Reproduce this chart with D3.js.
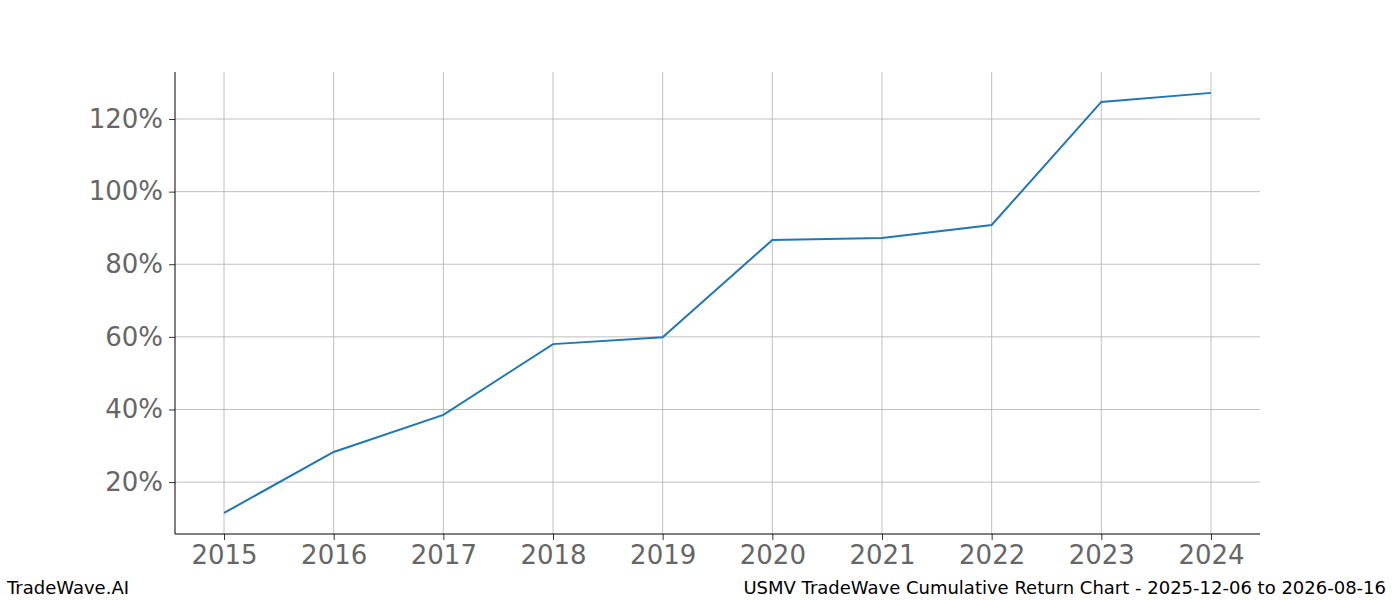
<!DOCTYPE html>
<html><head><meta charset="utf-8">
<script src="https://cdn.jsdelivr.net/npm/d3@7"></script>
<style>body{margin:0;background:#fff}svg{font-family:"DejaVu Sans",sans-serif}</style>
</head><body><svg width="1400" height="600"></svg>
<script>
var years = [2015,2016,2017,2018,2019,2020,2021,2022,2023,2024]
var returns = [11.5,28.3,38.5,58.0,59.9,86.7,87.2,90.8,124.7,127.2]
var yTicks = [20,40,60,80,100,120]

var svg = d3.select("svg")
var x = d3.scaleLinear().domain([2014.553,2024.447]).range([175,1260])
var y = d3.scaleLinear().domain([5.7,132.95]).range([534,72])

// grid
svg.append("g").selectAll("line").data(years).enter().append("line")
  .attr("x1",d=>x(d)).attr("x2",d=>x(d)).attr("y1",72).attr("y2",534)
  .attr("stroke","#b0b0b0").attr("stroke-width",0.8)
svg.append("g").selectAll("line").data(yTicks).enter().append("line")
  .attr("x1",175).attr("x2",1260).attr("y1",d=>y(d)).attr("y2",d=>y(d))
  .attr("stroke","#b0b0b0").attr("stroke-width",0.8)

var xa = svg.append("g").attr("transform","translate(0,534)")
  .call(d3.axisBottom(x).tickValues(years).tickFormat(d3.format("d")).tickSize(6).tickPadding(6))
var ya = svg.append("g").attr("transform","translate(175,0)")
  .call(d3.axisLeft(y).tickValues(yTicks).tickFormat(d=>d+"%").tickSize(6).tickPadding(6))
;[xa,ya].forEach(function(a){
  a.select(".domain").remove()
  a.selectAll("line").attr("stroke","#333")
  a.selectAll("text").attr("font-size",26).attr("fill","#666").attr("font-family","DejaVu Sans")
})
svg.append("line").attr("x1",175).attr("x2",175).attr("y1",72).attr("y2",534).attr("stroke","#000")
svg.append("line").attr("x1",175).attr("x2",1260).attr("y1",534).attr("y2",534).attr("stroke","#000")

svg.append("path").datum(years.map((d,i)=>[d,returns[i]]))
  .attr("d",d3.line().x(d=>x(d[0])).y(d=>y(d[1])))
  .attr("fill","none").attr("stroke","#1f77b4").attr("stroke-width",2)

svg.append("text").attr("x",7).attr("y",594).attr("font-size",18).text("TradeWave.AI")
svg.append("text").attr("x",1386).attr("y",594).attr("font-size",18).attr("text-anchor","end")
  .text("USMV TradeWave Cumulative Return Chart - 2025-12-06 to 2026-08-16")
</script></body></html>
